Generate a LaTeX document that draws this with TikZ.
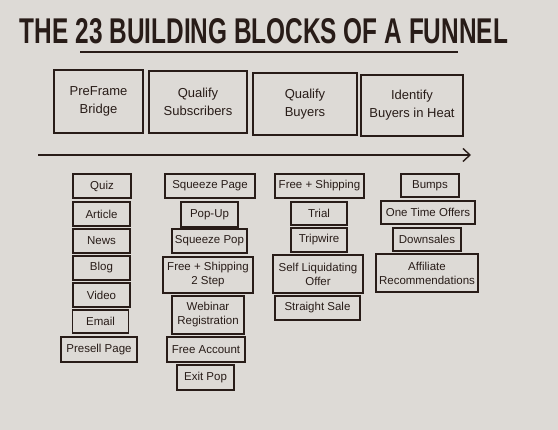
\documentclass[tikz,border=0pt]{standalone}
\usepackage{fontspec}
\setmainfont{Liberation Sans}
\newfontfamily\titlefont{Liberation Sans}
\usepackage{xcolor}
\usetikzlibrary{arrows.meta, positioning}
\definecolor{paper}{RGB}{221,218,214}
\definecolor{ink}{RGB}{40,28,24}

\begin{document}
\begin{tikzpicture}[
    x=1pt, y=-1pt,
    >={Straight Barb[length=7pt, width=13pt, line width=1.4pt]},
    block/.style={draw=ink, line width=1.7pt, inner sep=0pt, align=center, text=ink,
        font=\fontsize{11.5}{14}\selectfont},
    stage/.style={block, font=\fontsize{13}{18}\selectfont},
]
    \fill[paper] (0,0) rectangle (558,430);
    \useasboundingbox (0,0) rectangle (558,430);

    % title
    \node[text=ink, inner sep=0pt] (title) at (264,31)
        {\resizebox{488pt}{25pt}{\titlefont\bfseries THE 23 BUILDING BLOCKS OF A FUNNEL}};
    \coordinate (ulstart) at (80,52);
    \coordinate (ulend) at (458,52);
    \draw[ink, line width=1.5pt] (ulstart) -- (ulend);

    % stages
    \node[stage, minimum width=89pt, minimum height=63pt] (preframe) at (98.5,101.5) {PreFrame\\Bridge};
    \node[stage, minimum width=98pt, minimum height=62pt] (qsubs) at (198,102) {Qualify\\Subscribers};
    \node[stage, minimum width=104pt, minimum height=62pt] (qbuyers) at (305,104) {Qualify\\Buyers};
    \node[stage, minimum width=102pt, minimum height=61pt] (identify) at (412,105.5) {Identify\\Buyers in Heat};

    \coordinate (arrstart) at (38,155);
    \coordinate (arrend) at (471,155);
    \draw[->, ink, line width=1.5pt] (arrstart) -- (arrend);

    % preframe bridge
    \node[block, minimum width=58pt, minimum height=24pt] (quiz) at (102,186) {Quiz};
    \node[block, minimum width=57pt, minimum height=24pt] (article) at (101.5,214) {Article};
    \node[block, minimum width=57pt, minimum height=24pt] (news) at (101.5,241) {News};
    \node[block, minimum width=57pt, minimum height=24pt] (blog) at (101.5,268) {Blog};
    \node[block, minimum width=57pt, minimum height=24pt] (video) at (101.5,295) {Video};
    \node[block, minimum width=56pt, minimum height=23pt] (email) at (100.5,321.5) {Email};
    \node[block, minimum width=76pt, minimum height=25pt] (presell) at (99,349.5) {Presell Page};

    % qualify subscribers
    \node[block, minimum width=90pt, minimum height=24pt] (sqpage) at (210,186) {Squeeze Page};
    \node[block, minimum width=57pt, minimum height=25pt] (popup) at (209.5,214.5) {Pop-Up};
    \node[block, minimum width=75pt, minimum height=24pt] (sqpop) at (209.5,241) {Squeeze Pop};
    \node[block, minimum width=90pt, minimum height=36pt] (freetwo) at (208,275) {Free + Shipping\\2 Step};
    \node[block, minimum width=72pt, minimum height=38pt] (webinar) at (208,315) {Webinar\\Registration};
    \node[block, minimum width=78pt, minimum height=25pt] (freeacct) at (206,349.5) {Free Account};
    \node[block, minimum width=57pt, minimum height=25pt] (exitpop) at (205.5,377.5) {Exit Pop};

    % qualify buyers
    \node[block, minimum width=89pt, minimum height=24pt] (freeship) at (319.5,186) {Free + Shipping};
    \node[block, minimum width=56pt, minimum height=23pt] (trial) at (319,213.5) {Trial};
    \node[block, minimum width=56pt, minimum height=24pt] (tripwire) at (319,240) {Tripwire};
    \node[block, minimum width=90pt, minimum height=38pt] (selfliq) at (318,274) {Self Liquidating\\Offer};
    \node[block, minimum width=85pt, minimum height=24pt] (straight) at (317.5,308) {Straight Sale};

    % identify buyers in heat
    \node[block, minimum width=58pt, minimum height=23pt] (bumps) at (430,185.5) {Bumps};
    \node[block, minimum width=94pt, minimum height=23pt] (oto) at (428,212.5) {One Time Offers};
    \node[block, minimum width=68pt, minimum height=23pt] (downsales) at (427,239.5) {Downsales};
    \node[block, minimum width=102pt, minimum height=38pt] (affiliate) at (427,273) {Affiliate\\Recommendations};
\end{tikzpicture}
\end{document}
